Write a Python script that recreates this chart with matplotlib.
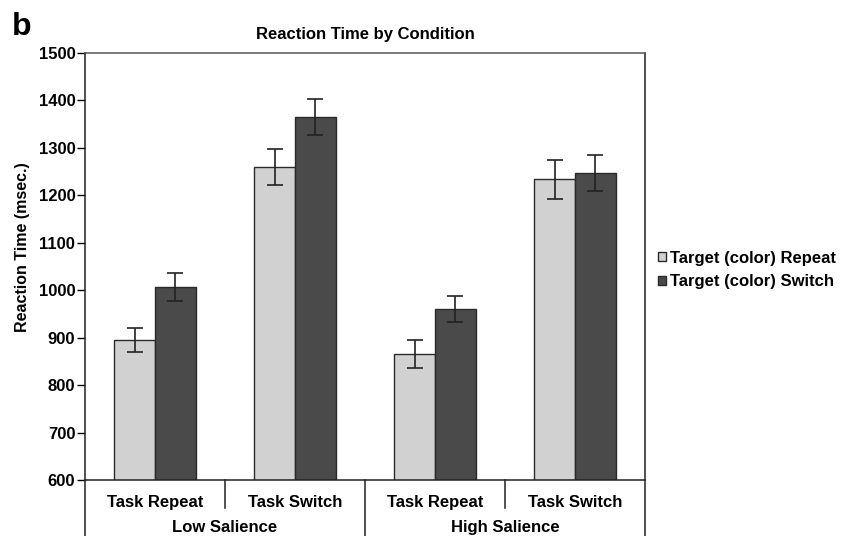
import matplotlib
matplotlib.use('Agg')
import matplotlib.pyplot as plt
import numpy as np

plt.rcParams['font.family'] = ['Liberation Sans', 'DejaVu Sans']
plt.rcParams['font.weight'] = 'bold'

# Dados
conditions = ['Task Repeat', 'Task Switch', 'Task Repeat', 'Task Switch']
groups = ['Low Salience', 'High Salience']
repeat_rt = [895, 1260, 866, 1234]
repeat_err = [26, 38, 30, 41]
switch_rt = [1007, 1365, 960, 1247]
switch_err = [29, 38, 27, 37]
series_names = ['Target (color) Repeat', 'Target (color) Switch']

light = '#d0d1d0'
dark = '#4a4a4a'
edge = '#2a2a2a'

fig = plt.figure(figsize=(8.59, 5.36), dpi=100)
ax = fig.add_axes([85 / 859, 56 / 536, 560 / 859, 427 / 536])

ind = np.arange(len(conditions))
width = 0.29

ax.bar(ind - width / 2, repeat_rt, width, color=light, edgecolor=edge,
       linewidth=1, label=series_names[0])
ax.bar(ind + width / 2, switch_rt, width, color=dark, edgecolor=edge,
       linewidth=1, label=series_names[1])
ax.errorbar(ind - width / 2, repeat_rt, yerr=repeat_err, fmt='none',
            ecolor='#222222', elinewidth=1.2, capsize=5.5, capthick=1.2)
ax.errorbar(ind + width / 2, switch_rt, yerr=switch_err, fmt='none',
            ecolor='#222222', elinewidth=1.2, capsize=5.5, capthick=1.2)

ax.set_xlim(-0.5, len(conditions) - 0.5)
ax.set_ylim(600, 1500)
ax.set_yticks(np.arange(600, 1501, 100))
ax.tick_params(axis='y', direction='out', length=6, width=1, pad=1,
               labelsize=12)
ax.set_xticks(ind)
ax.set_xticklabels(conditions, fontsize=12, fontweight='bold')
ax.tick_params(axis='x', length=0, pad=11)

for s in ax.spines.values():
    s.set_color('#222222')
    s.set_linewidth(1.1)
ax.spines['top'].set_color('#555555')

# separadores do eixo x em dois niveis
trans = ax.get_xaxis_transform()
for x in [0.5, 2.5]:
    ax.plot([x, x], [0, -0.066], transform=trans, color='#222222',
            linewidth=1.1, clip_on=False)
for x in [-0.5, 1.5, 3.5]:
    ax.plot([x, x], [0, -0.135], transform=trans, color='#222222',
            linewidth=1.1, clip_on=False)
for i, g in enumerate(groups):
    ax.text(2 * i + 0.5, -0.122, g, transform=trans, ha='center',
            va='baseline', fontsize=12, fontweight='bold')

ax.set_title('Reaction Time by Condition', fontsize=12, fontweight='bold',
             pad=10)
fig.text(23 / 859, (536 - 247) / 536, 'Reaction Time (msec.)', rotation=90,
         ha='center', va='center', fontsize=11.5, fontweight='bold')
fig.text(12 / 859, (536 - 35) / 536, 'b', fontsize=23, fontweight='bold',
         va='baseline')

fig.legend(loc='center left', bbox_to_anchor=(658 / 859, (536 - 270) / 536),
           frameon=False, handlelength=0.45, handleheight=0.45,
           handletextpad=0.3, labelspacing=0.5, borderpad=0,
           borderaxespad=0, prop={'weight': 'bold', 'size': 12})

fig.savefig('out.png', dpi=100)
